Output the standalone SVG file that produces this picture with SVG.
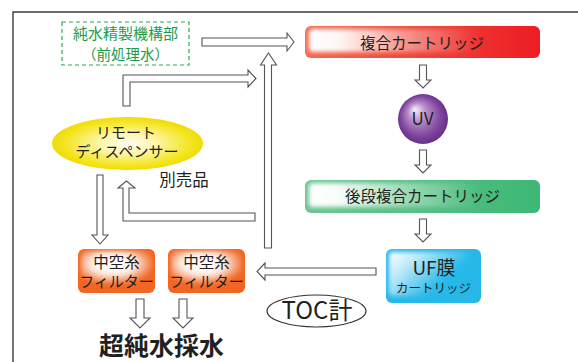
<svg xmlns="http://www.w3.org/2000/svg" width="578" height="362" viewBox="0 0 578 362">
<style>
text{font-family:"Noto Sans CJK JP","Noto Sans",sans-serif;fill:#231f20;text-anchor:middle}
.arr{fill:#fff;stroke:#555;stroke-width:1.1;stroke-linejoin:miter}
.frame{fill:none;stroke:#3a3a3a;stroke-width:1.4}
</style>
<defs>
<filter id="blur" x="-10%" y="-20%" width="120%" height="140%"><feGaussianBlur stdDeviation="2"/></filter>
<linearGradient id="redBase" x1="0" y1="0" x2="1" y2="0"><stop offset="0" stop-color="#f26a4e"/><stop offset="1" stop-color="#ed1c24"/></linearGradient>
<linearGradient id="greenBase" x1="0" y1="0" x2="1" y2="0"><stop offset="0" stop-color="#6cc593"/><stop offset="1" stop-color="#3db874"/></linearGradient>
<linearGradient id="whiteH" x1="0" y1="0" x2="1" y2="0"><stop offset="0" stop-color="#fff" stop-opacity="1"/><stop offset="0.15" stop-color="#fff" stop-opacity="0.95"/><stop offset="0.45" stop-color="#fff" stop-opacity="0.45"/><stop offset="0.85" stop-color="#fff" stop-opacity="0"/></linearGradient>
<linearGradient id="whiteD" x1="0" y1="0" x2="1" y2="0.6"><stop offset="0" stop-color="#fff" stop-opacity="1"/><stop offset="0.3" stop-color="#fff" stop-opacity="0.7"/><stop offset="0.8" stop-color="#fff" stop-opacity="0"/></linearGradient>
<radialGradient id="whiteR" cx="0.45" cy="0.35" r="0.6"><stop offset="0" stop-color="#fff" stop-opacity="1"/><stop offset="0.5" stop-color="#fff" stop-opacity="0.9"/><stop offset="1" stop-color="#fff" stop-opacity="0"/></radialGradient>
<radialGradient id="uvG" cx="0.5" cy="0.5" r="0.55" fx="0.33" fy="0.3"><stop offset="0" stop-color="#f6f0fa"/><stop offset="0.35" stop-color="#b48ac8"/><stop offset="0.75" stop-color="#7d419b"/><stop offset="1" stop-color="#5f2b80"/></radialGradient>
<radialGradient id="yelG" cx="0.5" cy="0.5" r="0.5"><stop offset="0" stop-color="#fffef0"/><stop offset="0.35" stop-color="#fdf7b0"/><stop offset="0.85" stop-color="#f4e41c"/><stop offset="1" stop-color="#efdc08"/></radialGradient>
</defs>

<path class="frame" d="M13,362 V12 H578"/>

<g id="connectors">
<path class="arr" d="M202,38 H287 V33 L294,42 L287,51 V46 H202 Z"/>
<path class="arr" d="M264.5,248 V65 H260.5 L268.5,53 L276.5,65 H271.5 V248 Z"/>
<path class="arr" d="M123,106 V75 H248 V70 L256,78.5 L248,87 V82 H130 V106 Z"/>
<path class="arr" d="M97,175 V235 H92 L100,244 L108,235 H103 V175 Z"/>
<path class="arr" d="M255,213 H129 V188 H135 L126.5,181 L118,188 H123 V221 H255 Z"/>
<path class="arr" d="M376,268 H265 V263 L257,271.5 L265,280 V275 H376 Z"/>
<path class="arr" d="M419.5,65 V80 H415 L423,88 L431,80 H426.5 V65 Z"/>
<path class="arr" d="M419.5,150 V165 H415 L423,173 L431,165 H426.5 V150 Z"/>
<path class="arr" d="M419.5,219 V234 H415 L423,242 L431,234 H426.5 V219 Z"/>
<path class="arr" d="M136,299 V318 H130 L140,328 L150,318 H144 V299 Z"/>
<path class="arr" d="M179,299 V318 H173 L183,328 L193,318 H187 V299 Z"/>
</g>

<g id="pretreat">
<rect x="62" y="22" width="127" height="43" fill="none" stroke="#2ca85a" stroke-width="1.2" stroke-dasharray="4,3"/>
<text x="125.5" y="39" font-size="15" style="fill:#1e9a4c">純水精製機構部</text>
<text x="125.5" y="60" font-size="14.5" style="fill:#1e9a4c">（前処理水）</text>
</g>

<g id="cartridge1">
<rect x="305" y="26" width="235" height="32" rx="6" fill="url(#redBase)"/>
<rect x="309" y="29" width="200" height="23" rx="4" fill="url(#whiteH)" filter="url(#blur)"/>
<text x="422" y="48.5" font-size="15.5">複合カートリッジ</text>
</g>

<g id="uv">
<circle cx="423" cy="119" r="25" fill="url(#uvG)"/>
<text x="422.5" y="125" font-size="17">UV</text>
</g>

<g id="cartridge2">
<rect x="305" y="180" width="235" height="33" rx="6" fill="url(#greenBase)"/>
<rect x="309" y="183" width="200" height="24" rx="4" fill="url(#whiteH)" filter="url(#blur)"/>
<text x="422.5" y="202" font-size="15.5">後段複合カートリッジ</text>
</g>

<g id="uf">
<rect x="386" y="249" width="95" height="54" rx="6" fill="#27b8ea"/>
<rect x="389" y="252" width="80" height="44" rx="4" fill="url(#whiteD)" filter="url(#blur)"/>
<text x="434" y="275" font-size="19">UF膜</text>
<text x="433.5" y="292.5" font-size="12.5">カートリッジ</text>
</g>

<g id="dispenser">
<ellipse cx="127.5" cy="143.5" rx="75.5" ry="26.5" fill="url(#yelG)"/>
<text x="126" y="138" font-size="15">リモート</text>
<text x="127" y="157" font-size="15">ディスペンサー</text>
</g>

<g id="separate">
<text x="184" y="186" font-size="16.5">別売品</text>
</g>

<g id="filter1">
<rect x="78" y="249" width="77" height="44" rx="6" fill="#f26522"/>
<rect x="81" y="251" width="71" height="36" rx="5" fill="url(#whiteR)" filter="url(#blur)"/>
<text x="116.5" y="268" font-size="15.5">中空糸</text>
<text x="116.5" y="287" font-size="15">フィルター</text>
</g>

<g id="filter2">
<rect x="168" y="249" width="77" height="44" rx="6" fill="#f26522"/>
<rect x="171" y="251" width="71" height="36" rx="5" fill="url(#whiteR)" filter="url(#blur)"/>
<text x="206.5" y="268" font-size="15.5">中空糸</text>
<text x="206.5" y="287" font-size="15">フィルター</text>
</g>

<g id="toc">
<ellipse cx="316.5" cy="311" rx="49.5" ry="16" fill="#fff" stroke="#333" stroke-width="1.1"/>
<text x="317" y="318.5" font-size="24">TOC計</text>
</g>

<g id="ultrapure">
<text x="161.5" y="355" font-size="25" font-weight="bold">超純水採水</text>
</g>
</svg>
